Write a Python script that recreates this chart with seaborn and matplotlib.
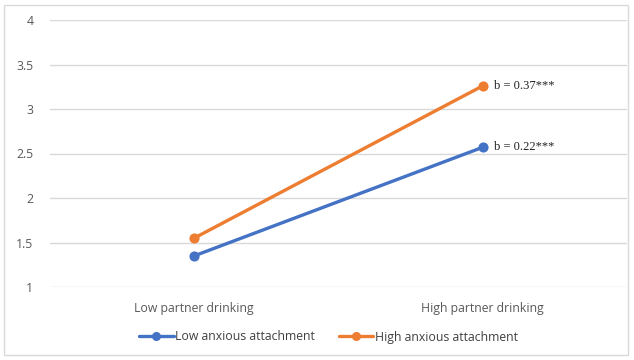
import matplotlib
matplotlib.use("Agg")
import matplotlib.pyplot as plt
import seaborn as sns
import pandas as pd
from matplotlib.patches import Rectangle
from matplotlib.lines import Line2D

categories = ["Low partner drinking", "High partner drinking"]
low_anxious = [1.35, 2.57]
high_anxious = [1.55, 3.26]
series_names = ["Low anxious attachment", "High anxious attachment"]
slope_labels = ["b = 0.22***", "b = 0.37***"]
y_ticks = [1, 1.5, 2, 2.5, 3, 3.5, 4]
y_tick_labels = ["1", "1.5", "2", "2.5", "3", "3.5", "4"]

colors = ["#4472C4", "#ED7D31"]

df = pd.DataFrame({
    "drinking": categories * 2,
    "value": low_anxious + high_anxious,
    "group": [series_names[0]] * 2 + [series_names[1]] * 2,
})

sns.set_theme(style="white")
plt.rcParams["font.family"] = ["Open Sans", "DejaVu Sans"]

fig = plt.figure(figsize=(6.34, 3.6), dpi=100)
ax = fig.add_axes([50 / 634, 1 - 287 / 360, 577 / 634, 267 / 360])

sns.pointplot(data=df, x="drinking", y="value", hue="group", order=categories,
              hue_order=series_names, palette=colors, markers="o",
              linewidth=2.4, markersize=5.5, ax=ax, legend=False)

ax.set_xlim(-0.5, 1.5)
ax.set_ylim(1, 4)
ax.set_yticks(y_ticks)
ax.set_yticklabels(y_tick_labels, fontsize=8.8, color="#595959")
ax.tick_params(axis="x", labelsize=8.8, colors="#595959", pad=11, length=0)
ax.tick_params(axis="y", length=0, pad=12)
ax.set_xlabel("")
ax.set_ylabel("")
ax.grid(axis="y", color="#D9D9D9", linewidth=1)
ax.set_axisbelow(True)
for s in ax.spines.values():
    s.set_visible(False)

# slope annotations next to the high-drinking points
for vals, lab in zip([low_anxious, high_anxious], slope_labels):
    ax.annotate(lab, (1, vals[1]), xytext=(8, 0), textcoords="offset points",
                va="center", ha="left", fontsize=9, family="Liberation Serif",
                color="#222222")

handles = [Line2D([0], [0], color=c, lw=2.4, marker="o", markersize=5.5)
           for c in colors]
fig.legend(handles, series_names, loc="center", bbox_to_anchor=(0.518, 1 - 337 / 360),
           ncol=2, frameon=False, fontsize=8.8, handlelength=2.8,
           handletextpad=0.1, columnspacing=2.0, labelcolor="#404040")

fig.patches.append(Rectangle((4 / 634, 5 / 360), 624 / 634, 350 / 360,
                             transform=fig.transFigure, fill=False,
                             edgecolor="#D9D9D9", linewidth=1))

fig.savefig("out.png", dpi=100)
